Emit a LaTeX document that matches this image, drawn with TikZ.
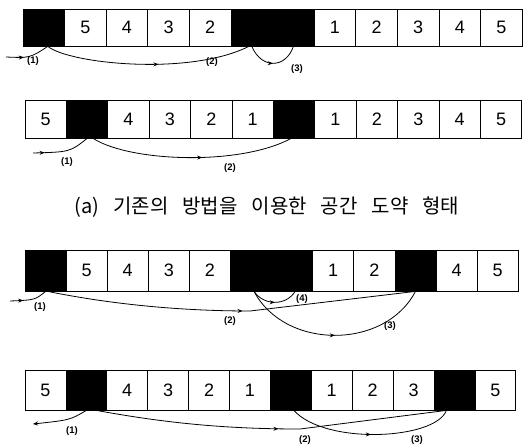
\documentclass[tikz,border=0pt]{standalone}
\usepackage{fontspec}
\setmainfont{Liberation Sans}
\newfontfamily\krfont{Noto Sans CJK KR}
\usetikzlibrary{arrows.meta,decorations.markings}
\tikzset{
  cellbox/.style={draw,line width=0.8pt,inner sep=0pt,font=\fontsize{18}{20}\selectfont},
  conn/.style={line width=0.8pt},
  marr/.style={postaction={decorate,decoration={markings,mark=at position #1 with {\arrow{Stealth[length=5pt,width=4pt]}}}}},
  lab/.style={font=\fontsize{9.5}{11}\selectfont\bfseries,inner sep=0pt}
}
\newcommand\mkrow[6]{%
  \foreach \v [count=\i] in {#6} {
    \pgfmathsetmacro\cx{#2+(\i-0.5)*#3}
    \ifnum\v=0
      \node[cellbox,fill=black,minimum width=#3pt,minimum height=#5pt] (#1c\i) at (\cx,#4) {};
    \else
      \node[cellbox,minimum width=#3pt,minimum height=#5pt] (#1c\i) at (\cx,#4) {\v};
    \fi
  }}
\newcommand\wsp{\hspace*{14pt}}
\begin{document}
\begin{tikzpicture}[x=1pt,y=-1pt]
\useasboundingbox (0,0) rectangle (525,444);
% rows
\mkrow{r1}{23}{41.6}{27.5}{37}{0,5,4,3,2,0,0,1,2,3,4,5}
\mkrow{r2}{25}{41.4}{119}{38}{5,0,4,3,2,1,0,1,2,3,4,5}
\mkrow{r3}{25}{41.1}{270.5}{41}{0,5,4,3,2,0,0,1,2,0,4,5}
\mkrow{r4}{25}{40.9}{390}{40}{5,0,4,3,2,1,0,1,2,3,0,5}
% row 1 connectors
\coordinate (s11) at (6,57);
\draw[conn,marr=0.4] (s11) .. controls (30,58) .. ([xshift=4pt]r1c1.south);
\draw[conn,marr=0.55] ([xshift=4pt]r1c1.south) .. controls (70,64) and (190,76) .. ([xshift=-3pt]r1c6.south);
\draw[conn,marr=0.5] (r1c6.south) .. controls (262,70) and (286,68) .. (r1c7.south);
\node[lab] (l11) at (33,61) {(1)};
\node[lab] (l12) at (212,62) {(2)};
\node[lab] (l13) at (297,69) {(3)};
% row 2 connectors
\coordinate (s21) at (33,153);
\draw[conn,marr=0.2] (s21) .. controls (70,152) .. (r2c2.south);
\draw[conn,marr=0.55] ([xshift=6pt]r2c2.south) .. controls (130,162) and (240,166) .. ([xshift=-3pt]r2c7.south);
\node[lab] (l21) at (67,162) {(1)};
\node[lab] (l22) at (230,168) {(2)};
% caption
\node[font=\krfont\fontsize{20}{23}\selectfont,inner sep=0pt] (cap) at (267,207) {(a)\wsp 기존의\wsp 방법을\wsp 이용한\wsp 공간\wsp 도약\wsp 형태};
% row 3 connectors
\coordinate (s31) at (10,301);
\draw[conn,marr=0.35] (s31) .. controls (35,300) .. (r3c1.south);
\draw[conn,marr=0.53] ([xshift=2pt]r3c1.south) .. controls (120,306) and (190,311) .. (250,311) -- (r3c10.south);
\draw[conn,marr=0.5] ([xshift=3pt]r3c6.south) .. controls (285,350) and (385,350) .. (r3c10.south);
\draw[conn,marr=0.5] ([xshift=3pt]r3c6.south) .. controls (264,306) and (286,306) .. ([xshift=3pt]r3c7.south);
\node[lab] (l31) at (40,307) {(1)};
\node[lab] (l32) at (230,321) {(2)};
\node[lab] (l34) at (302,299) {(4)};
\node[lab] (l33) at (390,326) {(3)};
% row 4 connectors
\coordinate (e41) at (33,424);
\draw[conn,-{Stealth[length=5pt,width=4pt]}] (r4c2.south) .. controls (70,420) .. (e41);
\draw[conn,marr=0.52] ([xshift=10pt]r4c2.south) .. controls (160,422) and (220,429) .. (300,429) -- ([xshift=-8pt]r4c11.south);
\draw[conn,marr=0.5] ([xshift=3pt]r4c7.south) .. controls (325,445) and (435,440) .. ([xshift=-8pt]r4c11.south);
\node[lab] (l41) at (72,431) {(1)};
\node[lab] (l42) at (305,440) {(2)};
\node[lab] (l43) at (417,440) {(3)};
\end{tikzpicture}
\end{document}
